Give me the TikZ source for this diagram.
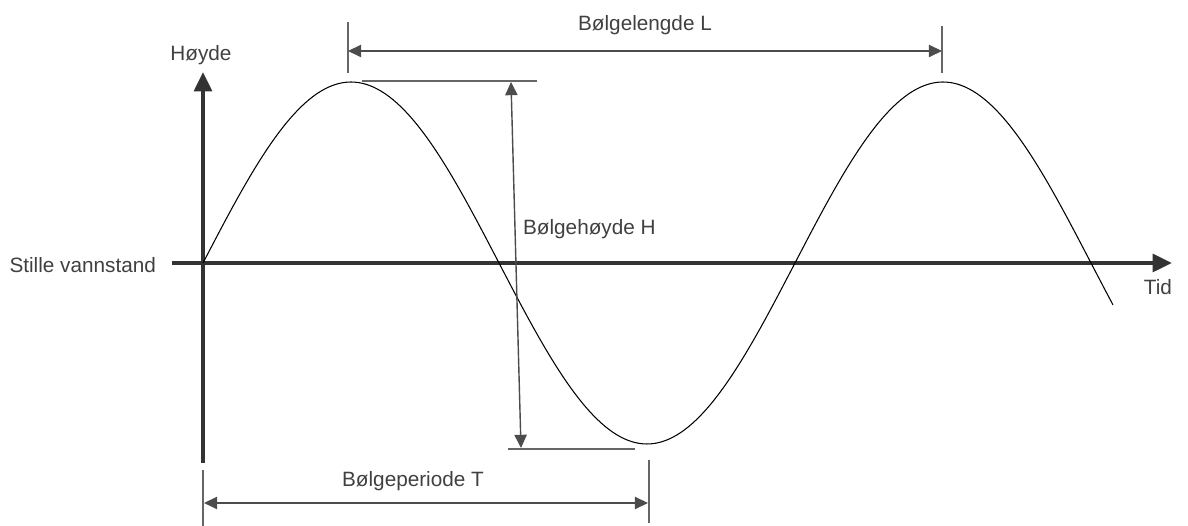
\documentclass[tikz,border=0pt]{standalone}
\usepackage{fontspec}
\setmainfont{Liberation Sans}
\usepackage{tikz}
\usetikzlibrary{arrows.meta,positioning,calc}

\begin{document}
\begin{tikzpicture}[
    x=0.02cm, y=-0.02cm,
    label/.style={font=\fontsize{11.8}{14}\selectfont, text=black!75, inner sep=1pt},
    axis/.style={line width=2.3pt, draw=black!80, -{Triangle[length=11pt, width=10pt]}},
    dim/.style={line width=0.8pt, draw=black!70, {Triangle[length=7.5pt, width=7pt]}-{Triangle[length=7.5pt, width=7pt]}},
    guide/.style={line width=0.6pt, draw=black!60},
    wave/.style={line width=0.6pt, black}
]
\useasboundingbox (0,0) rectangle (1188,526);

% Axes
\coordinate (o) at (203,263);
\coordinate (ybot) at (203,463);
\coordinate (ytop) at (203,72);
\coordinate (xleft) at (172,263);
\coordinate (xright) at (1172,263);
\draw[axis] (ybot) -- (ytop);
\draw[axis] (xleft) -- (xright);

\node[label] (hoyde) at (201,55) {Høyde};
\node[label] (tid) at (1158,287) {Tid};
\node[label, anchor=east] (still) at (158,265) {Stille vannstand};

% Wave
\draw[wave] plot[domain=203:1113, samples=241] (\x, {263 - 181*sin((\x-203)*0.6081081)});

% Wave length
\coordinate (la) at (348,22);
\coordinate (lb) at (348,73);
\coordinate (lc) at (942,26);
\coordinate (ld) at (942,73);
\draw[guide] (la) -- (lb);
\draw[guide] (lc) -- (ld);
\coordinate (l1) at (348,51);
\coordinate (l2) at (942,51);
\draw[dim] (l1) -- (l2);
\node[label] (lengde) at (645,25) {Bølgelengde L};

% Wave height
\coordinate (ha) at (362,81);
\coordinate (hb) at (537,81);
\coordinate (hc) at (508,449);
\coordinate (hd) at (635,449);
\draw[guide] (ha) -- (hb);
\draw[guide] (hc) -- (hd);
\coordinate (h1) at (511,82);
\coordinate (h2) at (521,448);
\draw[dim] (h1) -- (h2);
\node[label, anchor=west] (hoydeH) at (521,229) {Bølgehøyde H};

% Wave period
\coordinate (pa) at (203,470);
\coordinate (pb) at (203,526);
\coordinate (pc) at (649,460);
\coordinate (pd) at (649,523);
\draw[guide] (pa) -- (pb);
\draw[guide] (pc) -- (pd);
\coordinate (p1) at (204,503);
\coordinate (p2) at (648,503);
\draw[dim] (p1) -- (p2);
\node[label] (periode) at (413,481) {Bølgeperiode T};

\end{tikzpicture}
\end{document}
